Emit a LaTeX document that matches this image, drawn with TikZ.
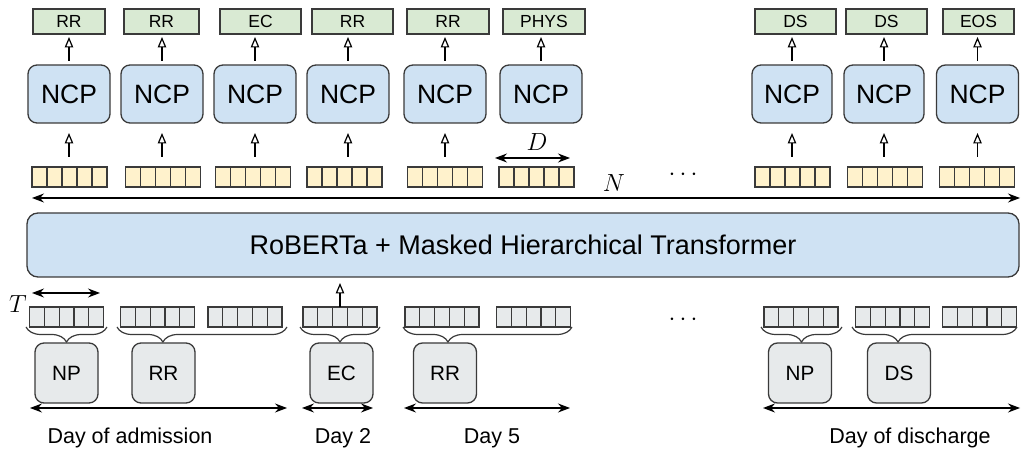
\documentclass[tikz,border=0pt]{standalone}
\usepackage{fontspec}
\setmainfont{Liberation Sans}
\usetikzlibrary{arrows.meta,decorations.pathreplacing,calc}
\definecolor{lgreen}{HTML}{D9EAD3}
\definecolor{lyellow}{HTML}{FFF2CC}
\definecolor{lblue}{HTML}{CFE2F3}
\definecolor{lgray}{HTML}{E7EAEB}
\definecolor{edge}{HTML}{3A3A3A}
\newcommand\myfs[1]{\fontsize{#1bp}{#1bp}\selectfont}
\tikzset{
  greenbox/.style={draw=edge, line width=1.3bp, fill=lgreen, minimum height=25bp, inner sep=0pt, outer sep=0pt, font=\myfs{17.5}},
  ncpbox/.style={draw=edge, line width=1.3bp, fill=lblue, rounded corners=9bp, minimum width=82bp, minimum height=58bp, inner sep=0pt, outer sep=0pt, font=\myfs{26.5}},
  bigbox/.style={draw=edge, line width=1.3bp, fill=lblue, rounded corners=11bp, minimum width=992bp, minimum height=64bp, inner sep=0pt, outer sep=0pt, font=\myfs{27}},
  notebox/.style={draw=edge, line width=1.3bp, fill=lgray, rounded corners=9bp, minimum width=63bp, minimum height=60bp, inner sep=0pt, outer sep=0pt, font=\myfs{20.7}},
  tokbox/.style={draw=edge, line width=1.2bp, minimum height=20bp, inner sep=0pt, outer sep=0pt},
  toky/.style={tokbox, fill=lyellow, minimum width=75bp},
  tokg/.style={tokbox, fill=lgray, minimum width=74bp},
  arr/.style={-{Triangle[open,length=10.5bp,width=8.5bp]}, line width=1.2bp, draw=black},
  darr/.style={{Stealth[length=12bp,width=9bp,inset=4bp]}-{Stealth[length=12bp,width=9bp,inset=4bp]}, line width=1.2bp, draw=black},
  brc/.style={draw=edge, line width=1.2bp, decorate},
  daylbl/.style={anchor=base, font=\myfs{21.5}, inner sep=0pt},
  mathlbl/.style={font=\myfs{25}, inner sep=0pt},
}
\newcommand\tokstrip[4]{%
  \node[#4] (#1) at (#2,#3) {};
  \foreach \k in {1,...,4}
    \draw[draw=edge, line width=1.2bp] ($(#1.north west)!\k/5!(#1.north east)$) -- ($(#1.south west)!\k/5!(#1.south east)$);
}
\begin{document}
\begin{tikzpicture}[x=1bp,y=-1bp]
\useasboundingbox (0,0) rectangle (1021,451);

% top outputs
\node[greenbox, minimum width=72bp] (g1) at (69,21.5) {RR};
\node[greenbox, minimum width=75bp] (g2) at (161.5,21.5) {RR};
\node[greenbox, minimum width=81bp] (g3) at (260.5,21.5) {EC};
\node[greenbox, minimum width=81bp] (g4) at (352.5,21.5) {RR};
\node[greenbox, minimum width=82bp] (g5) at (448,21.5) {RR};
\node[greenbox, minimum width=82bp] (g6) at (544,21.5) {PHYS};
\node[greenbox, minimum width=81bp] (g7) at (795.5,21.5) {DS};
\node[greenbox, minimum width=81bp] (g8) at (886.5,21.5) {DS};
\node[greenbox, minimum width=71bp] (g9) at (978.5,21.5) {EOS};

% NCP
\node[ncpbox] (n1) at (69,94) {NCP};
\node[ncpbox] (n2) at (162,94) {NCP};
\node[ncpbox] (n3) at (255,94) {NCP};
\node[ncpbox] (n4) at (348,94) {NCP};
\node[ncpbox] (n5) at (445,94) {NCP};
\node[ncpbox] (n6) at (541,94) {NCP};
\node[ncpbox, minimum width=80bp] (n7) at (792,94) {NCP};
\node[ncpbox, minimum width=80bp] (n8) at (884,94) {NCP};
\node[ncpbox] (n9) at (977.5,94) {NCP};

% top tokens
\tokstrip{t1}{69.5}{177}{toky}
\tokstrip{t2}{163}{177}{toky}
\tokstrip{t3}{253}{177}{toky}
\tokstrip{t4}{344.5}{177}{toky}
\tokstrip{t5}{445}{177}{toky}
\tokstrip{t6}{536.5}{177}{toky}
\tokstrip{t7}{792.5}{177}{toky}
\tokstrip{t8}{885}{177}{toky}
\tokstrip{t9}{977}{177}{toky}

\foreach \i in {1,...,9} {
  \draw[arr, shorten <=4bp, shorten >=3bp] (n\i.north) -- (n\i.north |- g\i.south);
}
\foreach \i in {1,2,3,4,5,7,8,9} {
  \draw[arr, shorten <=10bp, shorten >=10bp] (n\i.south |- t\i.north) -- (n\i.south);
}

% D, N, dots
\coordinate (dL) at (495,158);
\coordinate (dR) at (570,158);
\draw[darr] (dL) -- (dR);
\node[mathlbl, anchor=base] (Dlbl) at (537,151) {$D$};
\node[mathlbl] (Nlbl) at (614,183) {$N$};
\node[font=\myfs{30}, inner sep=0pt] (dtop) at (683,175) {$\cdots$};
\coordinate (nL) at (32,198);
\coordinate (nR) at (1020,198);
\draw[darr] (nL) -- (nR);

% big box
\node[bigbox] (big) at (523,245) {RoBERTa + Masked Hierarchical Transformer};

% T
\coordinate (tL) at (32,293);
\coordinate (tR) at (100,293);
\draw[darr] (tL) -- (tR);
\node[mathlbl] (Tlbl) at (18,304) {$T$};

% bottom tokens
\tokstrip{ta}{66.5}{317}{tokg}
\tokstrip{tb}{157.5}{317}{tokg}
\tokstrip{tc}{245}{317}{tokg}
\tokstrip{td}{340}{317}{tokg}
\tokstrip{te}{442}{317}{tokg}
\tokstrip{tf}{533.5}{317}{tokg}
\tokstrip{tg}{801}{317}{tokg}
\tokstrip{th}{892.5}{317}{tokg}
\tokstrip{ti}{979.5}{317}{tokg}
\node[font=\myfs{30}, inner sep=0pt] (dbot) at (683,320) {$\cdots$};

\draw[arr, shorten >=6bp] (td.north) -- (td.north |- big.south);

% braces
\draw[brc, decoration={brace, mirror, amplitude=15bp, aspect=0.5}] (26,327) -- (107,327);
\draw[brc, decoration={brace, mirror, amplitude=15bp, aspect=0.27}] (117,327) -- (287,327);
\draw[brc, decoration={brace, mirror, amplitude=15bp, aspect=0.5}] (300,327) -- (380,327);
\draw[brc, decoration={brace, mirror, amplitude=15bp, aspect=0.266}] (403,327) -- (572,327);
\draw[brc, decoration={brace, mirror, amplitude=15bp, aspect=0.5}] (761,327) -- (842,327);
\draw[brc, decoration={brace, mirror, amplitude=15bp, aspect=0.279}] (852,327) -- (1017,327);

% note boxes
\node[notebox] (b1) at (66.5,373) {NP};
\node[notebox] (b2) at (163.5,373) {RR};
\node[notebox] (b3) at (341.5,373) {EC};
\node[notebox] (b4) at (445,373) {RR};
\node[notebox] (b5) at (800,373) {NP};
\node[notebox] (b6) at (899,373) {DS};

% day arrows
\coordinate (a1) at (30,408);  \coordinate (a2) at (287,408);
\coordinate (c1) at (302,408); \coordinate (c2) at (373,408);
\coordinate (e1) at (404,408); \coordinate (e2) at (570,408);
\coordinate (f1) at (763,408); \coordinate (f2) at (1020,408);
\draw[darr] (a1) -- (a2);
\draw[darr] (c1) -- (c2);
\draw[darr] (e1) -- (e2);
\draw[darr] (f1) -- (f2);
\node[daylbl] (l1) at (130,443) {Day of admission};
\node[daylbl] (l2) at (343,443) {Day 2};
\node[daylbl] (l3) at (492,443) {Day 5};
\node[daylbl] (l4) at (910,443) {Day of discharge};
\end{tikzpicture}
\end{document}
